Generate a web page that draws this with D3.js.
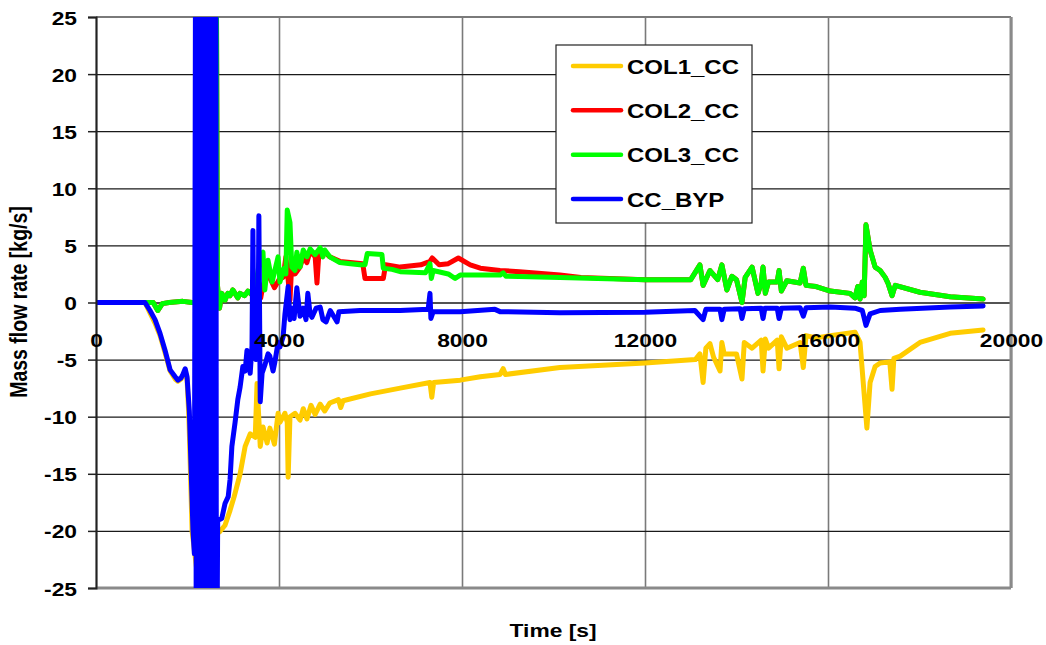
<!DOCTYPE html>
<html>
<head>
<meta charset="utf-8">
<script src="https://cdn.jsdelivr.net/npm/d3@7"></script>
<style>
  html, body { margin: 0; padding: 0; background: #fff; }
  svg text { font-family: "Liberation Sans", Arial, sans-serif; font-weight: bold; fill: #000; }
</style>
</head>
<body>
<svg id="chart" width="1046" height="645"></svg>
<script>
// tick labels
const xTicks = [0, 4000, 8000, 12000, 16000, 20000];
const yTicks = [-25, -20, -15, -10, -5, 0, 5, 10, 15, 20, 25];

const seriesNames = ['COL1_CC', 'COL2_CC', 'COL3_CC', 'CC_BYP'];
const seriesColors = ['#ffcc00', '#ff0000', '#00ff00', '#0000ff'];

// [time s, mass flow kg/s]
const col1 = [[0,0],[1070,0],[1180,-0.9],[1290,-1.8],[1400,-2.9],[1510,-4.4],[1620,-6.0],[1730,-6.7],[1790,-6.9],
  [1860,-6.7],[1900,-6.4],[1950,-6.0],[1990,-6.7],[2030,-10],[2080,-17],[2100,-20],[2130,-21],[2400,-30],[2620,-30],
  [2640,-20.1],[2700,-20.1],[2820,-19.5],[2930,-18.2],[3020,-17],[3150,-15],[3260,-12.6],[3370,-11.5],[3480,-11.8],
  [3520,-7.1],[3590,-12.6],[3650,-10.9],[3740,-12.3],[3800,-11],[3900,-12.4],[3980,-9.7],[4020,-10.5],[4130,-9.7],
  [4180,-10.5],[4200,-15.3],[4240,-10],[4350,-9.7],[4460,-10.3],[4530,-9.3],[4610,-10.2],[4700,-9.0],[4790,-9.8],
  [4900,-8.9],[5000,-9.5],[5110,-8.8],[5300,-8.5],[5350,-9.2],[5400,-8.6],[6000,-8.0],[6650,-7.5],[7300,-7.0],
  [7340,-8.3],[7380,-7.0],[7960,-6.8],[8400,-6.5],[8830,-6.3],[8900,-5.8],[8950,-6.3],[10140,-5.7],[12000,-5.3],
  [13100,-5.0],[13200,-4.5],[13270,-7.0],[13330,-4.0],[13420,-3.6],[13500,-4.8],[13640,-6.0],[13680,-3.5],[13730,-4.5],
  [14000,-4.5],[14120,-6.7],[14170,-3.5],[14340,-4.0],[14540,-3.3],[14580,-6.0],[14630,-3.2],[14700,-4.0],[14890,-3.3],
  [14930,-5.8],[14980,-3.0],[15100,-4.0],[15390,-3.5],[15460,-5.7],[15520,-2.9],[15740,-3.1],[16050,-2.9],[16590,-2.6],
  [16700,-3.5],[16790,-8],[16850,-11],[16920,-7],[17030,-5.6],[17140,-5.3],[17350,-5.2],[17400,-7.6],[17440,-4.9],
  [17580,-4.7],[18010,-3.5],[18670,-2.7],[19390,-2.4]];

const col2 = [[0,0],[1070,0],[1250,0],[1350,-0.7],[1450,-0.1],[1600,0],[1900,0.1],[2100,0],[2600,0],[2625,35],
  [2655,1.5],[2700,-0.5],[2750,0.8],[2820,0.2],[2880,0.8],[2930,0.6],[2990,1.1],[3100,0.4],[3150,0.8],[3250,0.6],
  [3320,1.0],[3400,0.7],[3450,1.0],[3480,0.5],[3600,0.4],[3650,1.5],[3760,2.5],[3900,1.3],[4000,2.0],[4090,2.2],
  [4150,4.0],[4200,2.0],[4240,0.2],[4280,3.5],[4350,2.5],[4460,3.1],[4530,4.0],[4610,3.5],[4680,4.5],[4790,4.0],
  [4830,1.7],[4870,4.2],[5000,4.4],[5110,4.0],[5330,3.6],[5560,3.5],[5830,3.4],[5880,2.1],[6280,2.1],[6330,3.3],
  [6650,3.1],[7100,3.3],[7300,3.6],[7350,3.9],[7500,3.3],[7700,3.4],[7920,3.9],[8180,3.3],[8400,3.0],[8830,2.8],
  [9260,2.7],[10140,2.4],[10600,2.2],[12000,2.0],[13000,2.0],[13200,3.3],[13270,1.5],[13420,2.8],[13590,2.0],
  [13680,3.3],[13790,1.1],[13900,2.3],[14000,2.0],[14120,0.0],[14190,2.2],[14340,3.1],[14470,0.8],[14540,1.7],
  [14580,3.1],[14630,0.8],[14700,1.8],[14890,1.8],[14930,2.8],[14980,1.0],[15100,1.9],[15390,1.7],[15460,3.0],
  [15520,1.5],[15740,1.4],[16050,1.0],[16480,0.8],[16590,0.4],[16650,1.4],[16700,0.3],[16750,1.8],[16790,0.6],
  [16830,6.8],[16920,4.6],[17030,3.1],[17140,2.8],[17250,2.2],[17310,1.7],[17400,0.6],[17470,1.5],[18010,0.9],
  [18670,0.5],[19390,0.3]];

const col3 = [[0,0],[1070,0],[1250,0],[1350,-0.7],[1450,-0.1],[1600,0],[1900,0.1],[2100,0],[2600,0],[2625,35],
  [2655,1.5],[2700,-0.5],[2750,0.8],[2820,0.2],[2880,0.8],[2930,0.6],[2990,1.1],[3100,0.4],[3150,0.8],[3250,0.6],
  [3320,1.0],[3400,0.7],[3450,1.2],[3480,0.5],[3530,2.5],[3600,4.2],[3650,4.4],[3690,1.1],[3760,3.7],[3850,1.8],
  [3980,4.0],[4020,1.8],[4110,3.0],[4150,2.5],[4180,8.1],[4240,7.0],[4280,3.1],[4350,2.8],[4390,4.4],[4460,3.1],
  [4530,4.6],[4610,4.0],[4680,4.7],[4790,4.2],[4900,4.8],[4960,4.0],[5000,4.6],[5110,4.0],[5330,3.5],[5560,3.4],
  [5770,3.3],[5880,3.3],[5930,4.3],[6250,4.2],[6280,3.0],[6470,2.9],[6650,2.7],[7200,2.6],[7300,3.4],[7330,2.1],
  [7370,2.8],[7700,2.5],[7850,2.1],[7960,2.4],[8400,2.4],[8830,2.4],[8900,2.6],[8960,2.3],[10140,2.2],[12000,2.0],
  [13000,2.0],[13200,3.3],[13270,1.5],[13420,2.8],[13590,2.0],[13680,3.3],[13790,1.1],[13900,2.3],[14000,2.0],
  [14120,0.0],[14190,2.2],[14340,3.1],[14470,0.8],[14540,1.7],[14580,3.1],[14630,0.8],[14700,1.8],[14890,1.8],
  [14930,2.8],[14980,1.0],[15100,1.9],[15390,1.7],[15460,3.0],[15520,1.5],[15740,1.4],[16050,1.0],[16480,0.8],
  [16590,0.4],[16650,1.4],[16700,0.3],[16750,1.8],[16790,0.6],[16830,6.8],[16920,4.6],[17030,3.1],[17140,2.8],
  [17250,2.2],[17310,1.7],[17400,0.6],[17470,1.5],[18010,0.9],[18670,0.5],[19390,0.3]];

// the bypass oscillates far off scale between ~2170 s and ~2620 s
const ccByp = [[0,0],[1070,0],[1180,-0.7],[1290,-1.5],[1400,-2.7],[1510,-4.2],[1620,-5.9],[1730,-6.5],[1790,-6.8],
  [1860,-6.6],[1900,-6.3],[1950,-5.8],[1990,-6.5],[2040,-9.5],[2090,-16],[2120,-20],[2150,-22],
  [2180,40],[2191,-40],[2202,40],[2213,-40],[2224,40],[2235,-40],[2246,40],[2257,-40],[2268,40],[2279,-40],
  [2290,40],[2301,-40],[2312,40],[2323,-40],[2334,40],[2345,-40],[2356,40],[2367,-40],[2378,40],[2389,-40],
  [2400,40],[2411,-40],[2422,40],[2433,-40],[2444,40],[2455,-40],[2466,40],[2477,-40],[2488,40],[2499,-40],
  [2510,40],[2521,-40],[2532,40],[2543,-40],[2554,40],[2565,-40],[2576,40],[2587,-40],[2598,40],[2609,-40],
  [2620,40],[2632,-40],
  [2660,-19],[2710,-19.0],[2750,-18.9],[2820,-17.6],[2890,-17],[2930,-15.5],[2970,-12.6],[3040,-10.5],[3100,-8.5],
  [3150,-7.4],[3210,-5.6],[3260,-6.0],[3300,-4.2],[3370,-6.2],[3410,-3.8],[3430,6.3],[3450,-3.5],[3500,-5],
  [3540,-4.5],[3560,7.6],[3590,-8.7],[3630,-6.2],[3690,-5.5],[3760,-4.5],[3800,-4.7],[3870,-6],[3910,-5.2],
  [3980,-3.5],[4020,-3.9],[4090,-3.0],[4130,-1],[4200,1.4],[4240,-1.5],[4280,-0.5],[4330,-1.4],[4390,1.3],
  [4460,-1.2],[4530,-0.5],[4590,-1.5],[4630,0.8],[4680,-1.0],[4720,-1.3],[4810,-0.5],[4900,-0.4],[4960,-1.5],
  [5030,-1.7],[5120,-0.7],[5270,-1.7],[5310,-0.8],[5770,-0.7],[6650,-0.7],[7260,-0.6],[7300,0.8],[7320,-1.4],
  [7370,-0.8],[7960,-0.8],[8720,-0.6],[8830,-0.8],[10140,-0.9],[12000,-0.85],[13090,-0.7],[13270,-1.5],[13330,-0.6],
  [13640,-0.6],[13680,-1.5],[13730,-0.6],[14080,-0.55],[14120,-1.4],[14170,-0.55],[14540,-0.5],[14580,-1.4],
  [14620,-0.5],[14890,-0.5],[14930,-1.4],[14980,-0.5],[15390,-0.45],[15460,-1.2],[15520,-0.45],[16050,-0.4],
  [16590,-0.5],[16750,-0.7],[16830,-2.0],[16920,-1.0],[17140,-0.7],[17580,-0.6],[18670,-0.4],[19390,-0.3]];

const seriesData = [col1, col2, col3, ccByp];

const svg = d3.select('#chart');
const plotL = 96, plotR = 1011, plotT = 17, plotB = 588;

const x = d3.scaleLinear().domain([0, 20000]).range([plotL, plotR]);
const y = d3.scaleLinear().domain([-25, 25]).range([plotB, plotT]);
const stretch = 'scale(1.2,1)';

// vertical grid
svg.append('g')
  .attr('transform', `translate(0,${plotT})`)
  .call(d3.axisBottom(x).tickValues(xTicks).tickSize(plotB - plotT).tickFormat(''))
  .call(g => g.select('.domain').remove())
  .call(g => g.selectAll('line').attr('stroke', '#7a7a7a').attr('stroke-width', 1.6));

// horizontal grid
svg.append('g')
  .attr('transform', `translate(${plotL},0)`)
  .call(d3.axisRight(y).tickValues(yTicks.slice(1, -1)).tickSize(plotR - plotL).tickFormat(''))
  .call(g => g.select('.domain').remove())
  .call(g => g.selectAll('line').attr('stroke', '#1a1a1a').attr('stroke-width', 1.3));

// plot border
svg.append('line').attr('x1', plotL).attr('x2', plotR).attr('y1', plotT).attr('y2', plotT)
  .attr('stroke', '#7a7a7a').attr('stroke-width', 1.8);
svg.append('line').attr('x1', plotR).attr('x2', plotR).attr('y1', plotT).attr('y2', plotB)
  .attr('stroke', '#8a8a8a').attr('stroke-width', 3);
svg.append('line').attr('x1', plotL).attr('x2', plotR).attr('y1', plotB).attr('y2', plotB)
  .attr('stroke', '#8a8a8a').attr('stroke-width', 3);

// series
svg.append('clipPath').attr('id', 'plotClip')
  .append('rect').attr('x', plotL).attr('y', plotT).attr('width', plotR - plotL).attr('height', plotB - plotT);

const line = d3.line().x(d => x(d[0])).y(d => y(d[1]));
const plot = svg.append('g').attr('clip-path', 'url(#plotClip)');
seriesData.forEach((data, i) => {
  plot.append('path')
    .datum(data)
    .attr('fill', 'none')
    .attr('stroke', seriesColors[i])
    .attr('stroke-width', 5)
    .attr('stroke-linejoin', 'round')
    .attr('stroke-linecap', 'round')
    .attr('d', line);
});

// y axis
const yAxis = svg.append('g')
  .attr('transform', `translate(${plotL},0)`)
  .call(d3.axisLeft(y).tickValues(yTicks).tickSize(8).tickFormat(d => String(d)));
yAxis.select('.domain').attr('stroke', '#222').attr('stroke-width', 2);
yAxis.selectAll('line').attr('stroke', '#222').attr('stroke-width', 1.5);
yAxis.selectAll('text')
  .attr('x', null).attr('dy', null)
  .attr('transform', `translate(-19,7) ${stretch}`)
  .attr('text-anchor', 'end')
  .style('font-size', '19px');

// x axis labels sit under the zero line
const xAxis = svg.append('g')
  .attr('transform', `translate(0,${y(0)})`)
  .call(d3.axisBottom(x).tickValues(xTicks).tickSize(0).tickFormat(d => String(d)));
xAxis.select('.domain').remove();
xAxis.selectAll('text')
  .attr('y', null).attr('dy', null)
  .attr('transform', `translate(0,44) ${stretch}`)
  .attr('text-anchor', 'middle')
  .style('font-size', '19px');

// axis titles
svg.append('text')
  .attr('transform', `translate(553,637) ${stretch}`)
  .attr('text-anchor', 'middle')
  .style('font-size', '19px')
  .text('Time [s]');

svg.append('text')
  .attr('transform', 'translate(27,302) rotate(-90) scale(1,1.2)')
  .attr('text-anchor', 'middle')
  .style('font-size', '19.5px')
  .text('Mass flow rate [kg/s]');

// legend
const legend = svg.append('g');
legend.append('rect')
  .attr('x', 556).attr('y', 45).attr('width', 196).attr('height', 178)
  .attr('fill', '#fff').attr('stroke', '#222').attr('stroke-width', 1.2);
const rowY = d3.scalePoint().domain(seriesNames).range([66, 199]);
seriesNames.forEach((name, i) => {
  const ry = rowY(name);
  legend.append('line')
    .attr('x1', 573).attr('x2', 621).attr('y1', ry).attr('y2', ry)
    .attr('stroke', seriesColors[i]).attr('stroke-width', 4.5).attr('stroke-linecap', 'round');
  legend.append('text')
    .attr('transform', `translate(627,${ry + 7.5}) ${stretch}`)
    .style('font-size', '20px')
    .text(name);
});
</script>
</body>
</html>
